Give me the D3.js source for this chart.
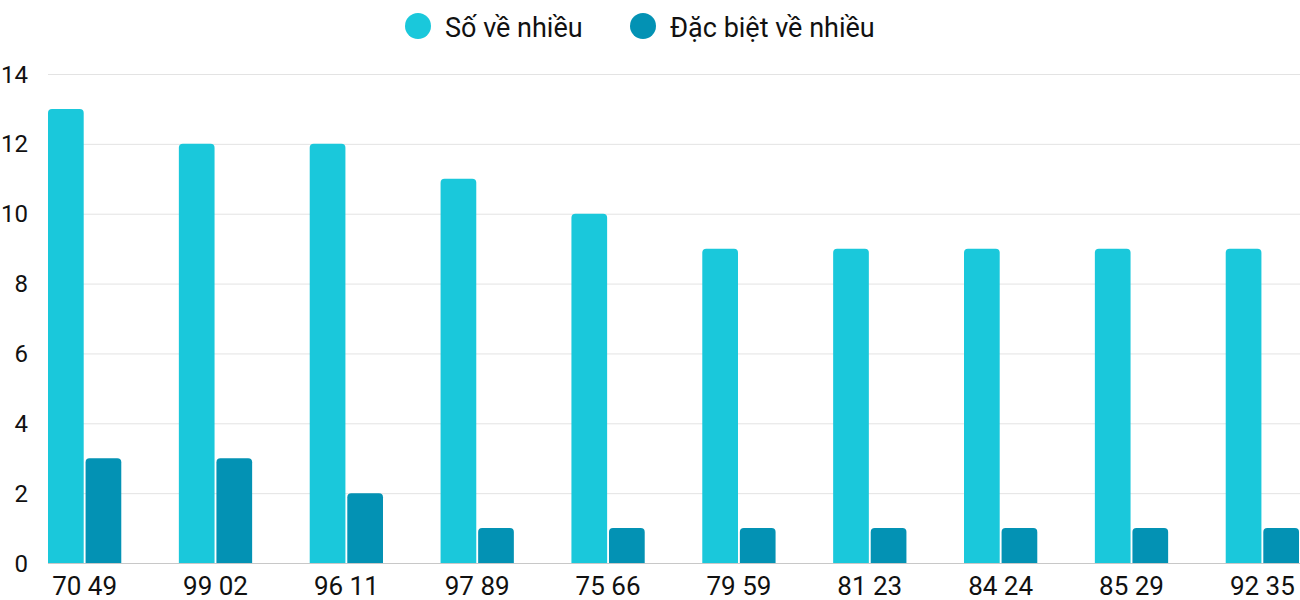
<!DOCTYPE html>
<html><head><meta charset="utf-8">
<script src="https://cdn.jsdelivr.net/npm/d3@7"></script>
<style>body{margin:0;background:#fff;font-family:Roboto,"Noto Sans",sans-serif;}</style>
</head><body><svg id="c" width="1300" height="600"></svg>
<script>
const categories = ["70 49","99 02","96 11","97 89","75 66","79 59","81 23","84 24","85 29","92 35"];
const seriesNames = ["Số về nhiều","Đặc biệt về nhiều"];
const soVeNhieu = [13,12,12,11,10,9,9,9,9,9];
const dacBiet = [3,3,2,1,1,1,1,1,1,1];
const yTicks = [0,2,4,6,8,10,12,14];
const colors = ["#1ac8db","#0392b4"];

(function(){
const svg = d3.select("#c");
const mLeft = 48, mRight = 1299, mTop = 74, mBottom = 563;
const x = d3.scaleBand().domain(categories).range([mLeft,mRight]).paddingInner(0.44).paddingOuter(0);
const xs = d3.scaleBand().domain([0,1]).range([0,x.bandwidth()]).paddingInner(0.05);
const y = d3.scaleLinear().domain([0,14]).range([mBottom,mTop]);

// grid
svg.append("g").selectAll("line").data(yTicks.filter(d=>d>0)).join("line")
  .attr("x1",mLeft).attr("x2",1300).attr("y1",d=>y(d)+0.5).attr("y2",d=>y(d)+0.5)
  .attr("stroke","#e3e3e3").attr("stroke-width",1);
svg.append("line").attr("x1",mLeft).attr("x2",1300).attr("y1",y(0)+0.5).attr("y2",y(0)+0.5)
  .attr("stroke","#c8c8c8").attr("stroke-width",1);

// y labels
svg.append("g").selectAll("text").data(yTicks).join("text")
  .attr("x",28).attr("y",d=>y(d)).attr("dy","0.36em").attr("text-anchor","end")
  .attr("font-size",24).attr("fill","#111").text(d=>d);

function topRounded(x0,y0,w,h,r){
  r=Math.min(r,h,w/2);
  return `M${x0},${y0+h}V${y0+r}Q${x0},${y0} ${x0+r},${y0}H${x0+w-r}Q${x0+w},${y0} ${x0+w},${y0+r}V${y0+h}Z`;
}
const series=[soVeNhieu,dacBiet];
series.forEach((vals,si)=>{
  svg.append("g").selectAll("path").data(vals).join("path")
    .attr("fill",colors[si])
    .attr("d",(v,i)=>topRounded(x(categories[i])+xs(si), y(v), xs.bandwidth(), y(0)-y(v), 4));
});

// x labels
svg.append("g").selectAll("text").data(categories).join("text")
  .attr("x",d=>x(d)+x.bandwidth()/2).attr("y",595).attr("text-anchor","middle")
  .attr("font-size",26).attr("fill","#111").text(d=>d);

// legend
const leg=[{x:418,tx:445},{x:643,tx:670}];
seriesNames.forEach((n,i)=>{
  svg.append("circle").attr("cx",leg[i].x).attr("cy",26).attr("r",13).attr("fill",colors[i]);
  svg.append("text").attr("x",leg[i].tx).attr("y",27).attr("dy","0.36em").attr("font-size",27).attr("fill","#111").text(n);
});
})();
</script></body></html>
